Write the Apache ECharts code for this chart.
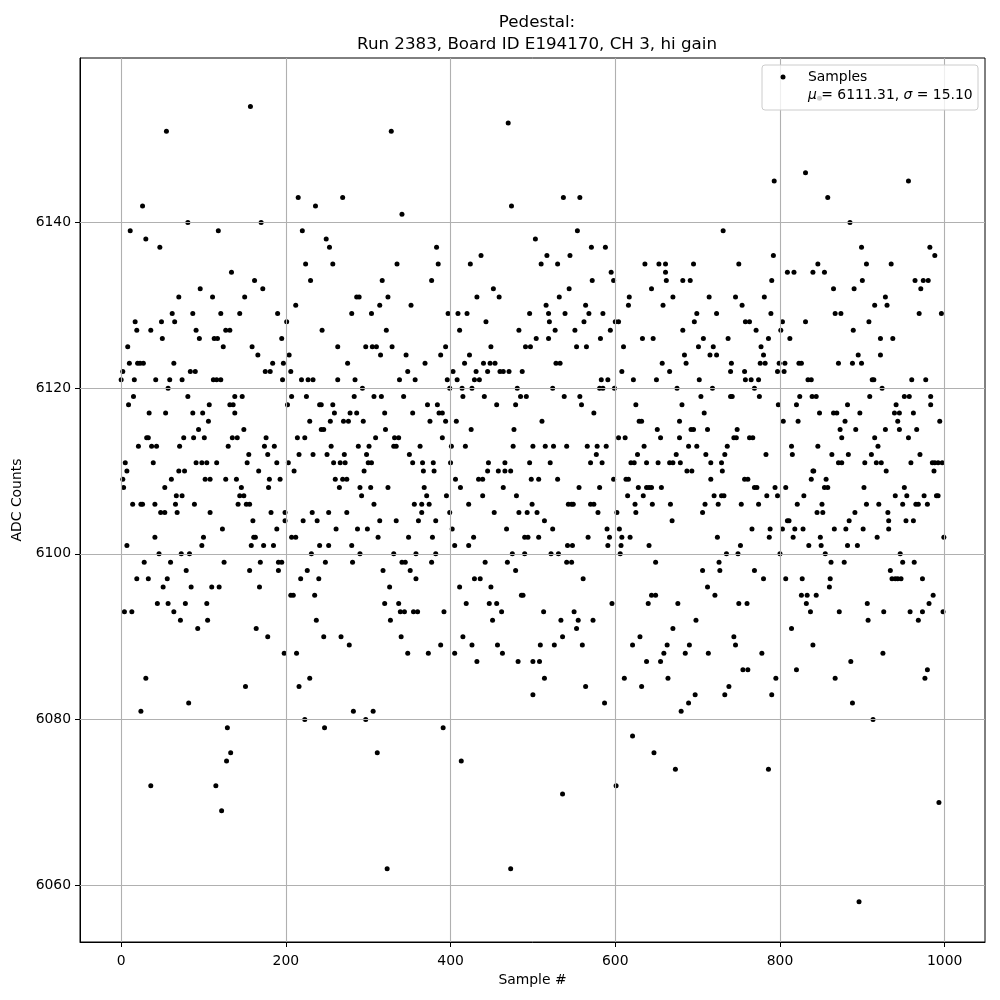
<!DOCTYPE html>
<html>
<head>
<meta charset="utf-8">
<script src="https://cdn.jsdelivr.net/npm/echarts@6/dist/echarts.min.js"></script>
<style>html,body{margin:0;padding:0;background:#fff}#c{width:1000px;height:1000px}</style>
</head>
<body>
<div id="c"></div>
<script>
// [sample #, ADC counts], by sample range
const seg1 = [[55,6151],[26,6142],[11,6139],[30,6138],[47,6137],[70,6131],[62,6129],[17,6128],[49,6128],[65,6128],[19,6127],[36,6127],[50,6126],[8,6125],[10,6123],[20,6123],[23,6123],[27,6123],[64,6123],[2,6122],[0,6121],[16,6121],[42,6121],[59,6121],[74,6121],[57,6120],[15,6119],[9,6118],[34,6117],[54,6117],[31,6114],[33,6114],[21,6113],[37,6113],[43,6113],[71,6113],[76,6114],[5,6111],[39,6111],[7,6110],[70,6110],[77,6110],[2,6109],[61,6109],[3,6108],[53,6108],[67,6107],[74,6107],[14,6106],[24,6106],[26,6106],[41,6106],[66,6106],[48,6105],[53,6105],[68,6105],[7,6101],[41,6102],[46,6100],[73,6100],[28,6099],[60,6099],[19,6097],[33,6097],[56,6097],[51,6096],[44,6094],[57,6094],[4,6093],[13,6093],[64,6093],[72,6092],[30,6085],[24,6081],[36,6072]];
const seg2 = [[157,6154],[81,6140],[118,6139],[134,6134],[96,6132],[111,6131],[150,6131],[87,6129],[121,6129],[144,6129],[91,6127],[127,6127],[132,6127],[95,6126],[113,6126],[117,6126],[124,6125],[159,6125],[84,6122],[90,6122],[112,6121],[116,6121],[121,6121],[81,6119],[138,6119],[147,6119],[87,6117],[99,6117],[107,6118],[132,6118],[136,6118],[138,6117],[106,6116],[94,6115],[149,6115],[88,6114],[101,6114],[135,6114],[141,6114],[130,6113],[155,6112],[91,6111],[98,6111],[104,6111],[116,6111],[153,6111],[102,6109],[108,6109],[127,6109],[140,6109],[146,6108],[144,6107],[149,6107],[89,6106],[142,6106],[152,6106],[156,6106],[108,6105],[160,6104],[123,6103],[100,6102],[98,6101],[158,6101],[83,6100],[125,6099],[79,6098],[156,6098],[85,6096],[110,6096],[119,6096],[78,6094],[104,6094],[93,6091],[105,6092],[151,6084],[82,6082],[129,6079],[133,6076],[128,6075],[115,6072],[122,6069]];
const seg3 = [[215,6143],[236,6142],[170,6140],[220,6139],[224,6135],[230,6133],[162,6133],[172,6132],[212,6130],[190,6129],[201,6128],[195,6126],[244,6127],[166,6124],[204,6124],[184,6123],[197,6123],[175,6122],[181,6122],[206,6122],[196,6121],[219,6121],[227,6121],[233,6121],[207,6119],[225,6119],[202,6118],[241,6118],[243,6118],[229,6116],[243,6115],[246,6115],[176,6114],[214,6114],[223,6114],[174,6113],[186,6113],[178,6112],[216,6112],[233,6112],[189,6111],[203,6111],[167,6110],[210,6110],[180,6109],[193,6109],[179,6108],[182,6105],[199,6105],[232,6105],[199,6104],[221,6104],[238,6104],[189,6103],[161,6102],[163,6102],[207,6102],[212,6102],[173,6101],[185,6101],[241,6101],[231,6100],[169,6099],[191,6099],[195,6099],[191,6098],[226,6098],[218,6097],[240,6097],[168,6096],[206,6095],[209,6095],[235,6095],[164,6091],[178,6090],[237,6092],[246,6090],[198,6088],[213,6088],[216,6084],[229,6085],[223,6080]];
const seg4 = [[328,6151],[269,6143],[249,6138],[253,6137],[257,6135],[317,6133],[286,6131],[289,6131],[324,6131],[280,6129],[304,6129],[314,6130],[322,6127],[263,6125],[297,6125],[305,6125],[310,6125],[329,6125],[315,6124],[275,6123],[263,6121],[284,6121],[293,6120],[257,6118],[283,6119],[307,6119],[316,6119],[259,6117],[278,6117],[286,6117],[320,6117],[254,6116],[270,6116],[276,6116],[294,6116],[321,6115],[309,6114],[255,6113],[288,6113],[301,6113],[331,6113],[250,6112],[271,6112],[298,6112],[258,6111],[266,6111],[272,6111],[300,6111],[304,6111],[295,6110],[260,6109],[269,6109],[274,6109],[265,6108],[290,6108],[303,6108],[324,6108],[292,6107],[307,6106],[252,6105],[274,6105],[314,6104],[261,6103],[287,6103],[299,6103],[312,6102],[252,6101],[280,6101],[290,6100],[331,6100],[248,6099],[281,6099],[318,6098],[326,6096],[320,6094],[327,6092],[267,6090],[277,6089],[282,6081],[306,6081],[297,6080],[247,6079],[311,6076],[323,6062]];
const seg5 = [[341,6141],[383,6137],[385,6135],[335,6135],[377,6133],[352,6130],[397,6129],[409,6129],[411,6127],[394,6125],[346,6124],[388,6124],[369,6123],[348,6122],[403,6122],[338,6121],[357,6121],[396,6121],[408,6121],[399,6120],[414,6120],[415,6119],[343,6119],[372,6118],[384,6118],[354,6117],[386,6117],[390,6117],[375,6116],[394,6116],[407,6116],[332,6114],[337,6114],[390,6114],[334,6113],[363,6113],[401,6113],[350,6112],[354,6111],[366,6111],[379,6111],[400,6111],[367,6110],[380,6110],[406,6109],[368,6108],[412,6108],[371,6107],[395,6107],[356,6106],[365,6106],[374,6106],[365,6105],[399,6105],[334,6104],[361,6104],[382,6104],[402,6103],[349,6102],[378,6102],[405,6101],[358,6100],[382,6100],[341,6099],[345,6099],[377,6099],[351,6098],[358,6097],[411,6096],[337,6094],[339,6093],[344,6093],[355,6093],[360,6093],[392,6093],[340,6090],[415,6090],[388,6089],[348,6088],[373,6088],[405,6088],[391,6079],[413,6075]];
const seg6 = [[470,6152],[474,6142],[424,6135],[437,6136],[432,6131],[452,6132],[459,6131],[420,6129],[443,6128],[496,6129],[483,6127],[449,6125],[491,6125],[497,6125],[423,6124],[417,6123],[440,6123],[448,6123],[454,6123],[431,6122],[445,6122],[460,6122],[464,6122],[471,6122],[487,6122],[429,6121],[435,6121],[426,6120],[481,6120],[441,6119],[485,6119],[492,6119],[456,6118],[479,6118],[425,6115],[477,6115],[418,6113],[476,6113],[500,6113],[446,6111],[466,6111],[496,6111],[445,6110],[458,6110],[466,6110],[473,6110],[434,6109],[439,6109],[498,6109],[464,6108],[480,6107],[422,6106],[439,6107],[499,6106],[453,6105],[483,6105],[493,6105],[468,6103],[428,6102],[490,6102],[494,6102],[422,6101],[475,6100],[490,6100],[442,6099],[469,6099],[479,6098],[429,6097],[436,6097],[449,6096],[486,6095],[488,6095],[419,6094],[447,6094],[456,6094],[462,6093],[451,6092],[426,6089],[457,6089],[463,6088],[432,6087],[482,6087],[500,6087],[500,6083],[473,6062]];
const seg7 = [[537,6143],[557,6143],[503,6138],[554,6139],[571,6137],[517,6136],[510,6135],[530,6135],[545,6136],[572,6133],[544,6132],[532,6131],[516,6130],[564,6130],[519,6129],[539,6129],[568,6129],[585,6129],[520,6128],[562,6128],[527,6127],[551,6127],[504,6126],[519,6126],[582,6126],[553,6125],[565,6125],[528,6123],[533,6123],[583,6121],[581,6120],[585,6120],[524,6120],[538,6119],[557,6119],[559,6118],[511,6116],[574,6117],[515,6113],[525,6113],[541,6113],[566,6113],[578,6113],[577,6112],[521,6111],[570,6111],[584,6111],[507,6109],[530,6109],[556,6108],[581,6108],[505,6105],[543,6106],[547,6106],[549,6106],[570,6106],[574,6106],[579,6105],[514,6104],[524,6103],[507,6102],[567,6102],[542,6101],[548,6101],[522,6100],[531,6100],[541,6099],[547,6099],[561,6097],[513,6093],[550,6093],[534,6092],[555,6092],[573,6092],[553,6091],[536,6090],[509,6089],[526,6089],[560,6089],[508,6087],[514,6085],[564,6084],[536,6071]];
const seg8 = [[588,6137],[636,6135],[653,6135],[661,6135],[661,6134],[595,6134],[662,6133],[598,6133],[644,6132],[617,6131],[670,6131],[616,6130],[658,6130],[600,6128],[604,6128],[594,6127],[633,6126],[646,6126],[610,6125],[657,6123],[666,6122],[608,6122],[591,6121],[622,6121],[650,6121],[599,6120],[625,6118],[629,6116],[632,6116],[651,6115],[604,6114],[612,6114],[655,6114],[589,6113],[635,6113],[627,6112],[619,6111],[623,6111],[638,6111],[652,6111],[666,6111],[670,6111],[598,6109],[613,6109],[616,6109],[628,6108],[638,6108],[641,6108],[644,6108],[656,6108],[615,6107],[634,6107],[624,6106],[645,6106],[667,6106],[602,6105],[625,6105],[669,6104],[590,6103],[605,6103],[593,6102],[608,6102],[618,6102],[591,6101],[607,6101],[641,6101],[606,6100],[649,6099],[596,6094],[640,6094],[644,6095],[649,6095],[670,6091],[621,6089],[630,6090],[663,6089],[659,6088],[638,6087],[655,6087],[611,6085],[664,6085],[632,6084],[587,6082],[621,6078],[647,6076],[601,6072]];
const seg9 = [[731,6139],[695,6135],[750,6135],[682,6133],[691,6133],[714,6131],[746,6131],[754,6130],[699,6129],[723,6129],[696,6128],[682,6127],[707,6126],[737,6126],[701,6125],[719,6125],[684,6124],[715,6124],[723,6124],[686,6123],[741,6123],[740,6122],[702,6121],[675,6120],[718,6120],[704,6119],[740,6119],[742,6119],[681,6118],[708,6117],[678,6116],[692,6115],[695,6115],[712,6115],[748,6115],[678,6114],[744,6114],[747,6114],[689,6113],[699,6113],[736,6113],[674,6112],[710,6112],[733,6112],[679,6111],[716,6111],[729,6111],[687,6110],[693,6110],[730,6110],[716,6109],[720,6107],[729,6107],[732,6107],[709,6106],[725,6106],[753,6106],[706,6105],[724,6102],[752,6101],[735,6100],[749,6100],[726,6099],[706,6098],[727,6098],[712,6096],[721,6095],[676,6094],[750,6094],[698,6092],[744,6090],[746,6089],[690,6089],[685,6088],[713,6088],[755,6086],[738,6084],[697,6083],[733,6083],[689,6082],[680,6081],[673,6074]];
const seg10 = [[793,6145],[831,6146],[792,6136],[809,6134],[817,6134],[840,6134],[790,6133],[781,6131],[789,6129],[758,6128],[763,6128],[803,6128],[831,6128],[771,6127],[801,6127],[786,6126],[812,6126],[777,6125],[780,6124],[776,6123],[782,6123],[799,6123],[806,6123],[823,6123],[826,6123],[757,6122],[797,6122],[805,6122],[758,6121],[765,6121],[774,6121],[834,6121],[838,6121],[769,6120],[775,6119],[824,6119],[839,6119],[798,6118],[820,6118],[804,6116],[822,6116],[763,6114],[767,6114],[814,6113],[815,6112],[783,6112],[840,6110],[838,6109],[757,6109],[761,6109],[769,6108],[772,6108],[794,6108],[807,6108],[784,6107],[797,6107],[829,6107],[774,6106],[821,6106],[809,6104],[811,6104],[766,6103],[788,6103],[803,6103],[818,6103],[828,6103],[787,6102],[816,6102],[835,6101],[800,6100],[769,6098],[780,6097],[807,6097],[827,6097],[760,6094],[826,6095],[833,6095],[832,6094],[837,6093],[814,6091],[840,6089],[778,6088],[761,6086],[820,6086],[795,6085],[790,6083],[786,6074]];
const seg11 = [[858,6143],[885,6140],[899,6137],[846,6135],[905,6135],[854,6134],[900,6133],[865,6132],[890,6132],[915,6130],[867,6129],[874,6129],[908,6128],[889,6127],[922,6126],[895,6124],[922,6124],[871,6123],[888,6123],[899,6123],[912,6121],[914,6121],[924,6120],[844,6119],[909,6119],[848,6117],[865,6117],[869,6117],[897,6117],[882,6118],[879,6116],[873,6115],[892,6115],[875,6114],[915,6114],[919,6113],[846,6113],[863,6112],[883,6112],[911,6112],[871,6111],[875,6111],[903,6111],[917,6111],[923,6111],[841,6110],[856,6109],[854,6108],[858,6108],[902,6108],[905,6106],[920,6106],[851,6106],[845,6105],[852,6105],[891,6105],[884,6104],[866,6103],[880,6103],[901,6103],[849,6102],[918,6102],[850,6101],[882,6101],[894,6101],[855,6100],[862,6099],[878,6099],[861,6097],[860,6096],[844,6095],[872,6093],[906,6094],[907,6092],[925,6088],[886,6087],[867,6085],[888,6082],[913,6080],[896,6058],[848,6155]];
const seg12 = [[956,6145],[982,6137],[988,6136],[935,6135],[964,6133],[974,6133],[980,6133],[971,6132],[928,6131],[930,6130],[969,6129],[996,6129],[937,6126],[960,6121],[977,6121],[951,6119],[957,6119],[983,6119],[941,6118],[983,6118],[939,6117],[945,6117],[962,6117],[943,6116],[994,6116],[928,6115],[945,6115],[966,6115],[956,6114],[970,6112],[959,6111],[985,6111],[988,6111],[992,6111],[997,6111],[929,6110],[987,6110],[951,6108],[940,6107],[954,6107],[975,6107],[990,6107],[992,6107],[949,6106],[965,6106],[968,6106],[979,6106],[931,6105],[953,6104],[962,6104],[932,6104],[932,6103],[999,6102],[946,6100],[949,6099],[963,6099],[934,6098],[936,6097],[940,6097],[943,6097],[947,6097],[973,6097],[986,6095],[981,6094],[926,6093],[958,6093],[968,6092],[973,6093],[998,6093],[979,6086],[976,6085],[993,6070]];

const xTicks = [0, 200, 400, 600, 800, 1000];
const yTicks = [6060, 6080, 6100, 6120, 6140];
const titleText = 'Pedestal:\nRun 2383, Board ID E194170, CH 3, hi gain';
const seriesName = 'Samples';
const statMu = '6111.31';
const statSigma = '15.10';

const points = [].concat(seg1, seg2, seg3, seg4, seg5, seg6, seg7, seg8, seg9, seg10, seg11, seg12);

const FONT = 'DejaVu Sans';
const chart = echarts.init(document.getElementById('c'), null, {renderer: 'canvas'});
const gridLineStyle = {color: '#b0b0b0', width: 1.1, type: 'solid'};
const plainNum = v => String(v);

chart.setOption({
  animation: false,
  backgroundColor: '#fff',
  textStyle: {fontFamily: FONT},
  title: {
    text: titleText,
    left: 532, top: 7, textAlign: 'center',
    textStyle: {fontFamily: FONT, fontSize: 16.7, fontWeight: 'normal', color: '#000', lineHeight: 22}
  },
  grid: {left: 80, right: 15, top: 58, bottom: 58, show: true, borderColor: '#000', borderWidth: 1, backgroundColor: 'transparent'},
  xAxis: {
    type: 'value', min: -49.95, max: 1048.95,
    name: 'Sample #', nameLocation: 'middle', nameGap: 27,
    nameTextStyle: {fontFamily: FONT, fontSize: 13.9, color: '#000'},
    axisLine: {show: true, onZero: false, lineStyle: {color: '#000', width: 1}},
    axisTick: {show: true, length: 5, inside: false, customValues: xTicks, lineStyle: {color: '#000', width: 1}},
    axisLabel: {customValues: xTicks, formatter: plainNum, margin: 12, fontFamily: FONT, fontSize: 13.9, color: '#000'},
    splitLine: {show: false}
  },
  yAxis: {
    type: 'value', min: 6053.15, max: 6159.85,
    name: 'ADC Counts', nameLocation: 'middle', nameGap: 42, nameRotate: 90,
    nameTextStyle: {fontFamily: FONT, fontSize: 13.9, color: '#000'},
    axisLine: {show: true, onZero: false, lineStyle: {color: '#000', width: 1}},
    axisTick: {show: true, length: 5, inside: false, customValues: yTicks, lineStyle: {color: '#000', width: 1}},
    axisLabel: {customValues: yTicks, formatter: plainNum, margin: 9, fontFamily: FONT, fontSize: 13.9, color: '#000'},
    splitLine: {show: false}
  },
  series: [
    {
      type: 'scatter', data: [], z: 1, silent: true,
      markLine: {
        silent: true, symbol: 'none', animation: false,
        label: {show: false},
        lineStyle: gridLineStyle,
        data: xTicks.map(v => ({xAxis: v})).concat(yTicks.map(v => ({yAxis: v})))
      }
    },
    {
      name: seriesName, type: 'scatter', z: 3,
      symbol: 'circle', symbolSize: 5,
      itemStyle: {color: '#000', opacity: 1},
      data: points
    }
  ],
  graphic: [
    {type: 'rect', z: 100, zlevel: 1, shape: {x: 762, y: 65, width: 216, height: 45, r: 3},
     style: {fill: 'rgba(255,255,255,0.8)', stroke: '#cccccc', lineWidth: 1}},
    {type: 'circle', z: 101, zlevel: 1, shape: {cx: 783, cy: 77, r: 2.5}, style: {fill: '#000'}},
    {type: 'text', z: 101, zlevel: 1, x: 808, y: 77, style: {text: seriesName, font: '13.9px "DejaVu Sans"', fill: '#000', verticalAlign: 'middle'}},
    {type: 'text', z: 101, zlevel: 1, x: 808, y: 95, style: {
      text: '{i|μ}{n|\u00a0=\u00a0' + statMu + ',\u00a0}{i|σ}{n|\u00a0=\u00a0' + statSigma + '}',
      font: '13.9px "DejaVu Sans"', fill: '#000', verticalAlign: 'middle',
      rich: {
        i: {fontStyle: 'italic', fontFamily: FONT, fontSize: 13.9, fill: '#000'},
        n: {fontFamily: FONT, fontSize: 13.9, fill: '#000'}
      }
    }}
  ]
});
</script>
</body>
</html>
